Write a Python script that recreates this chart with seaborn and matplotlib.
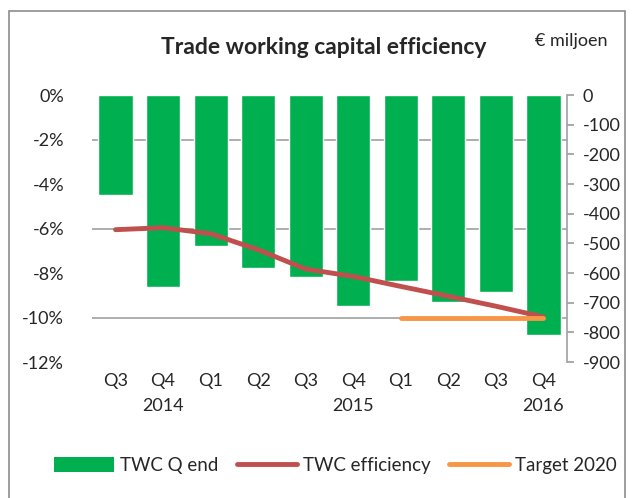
import matplotlib
matplotlib.use("Agg")
import matplotlib.pyplot as plt
import seaborn as sns
import pandas as pd
import numpy as np
from matplotlib.patches import Patch, Rectangle
from matplotlib.lines import Line2D

quarters = ["Q3", "Q4", "Q1", "Q2", "Q3", "Q4", "Q1", "Q2", "Q3", "Q4"]
years = ["", "2014", "", "", "", "2015", "", "", "", "2016"]
twc_q_end = [-336, -647, -510, -583, -612, -712, -627, -698, -664, -808]
twc_efficiency = [-6.05, -5.96, -6.23, -6.95, -7.82, -8.15, -8.6, -9.04, -9.49, -9.97]
target_2020 = [np.nan, np.nan, np.nan, np.nan, np.nan, np.nan, -10.0, -10.0, -10.0, -10.0]

GREEN = "#00B050"
RED = "#C0504D"
ORANGE = "#F79646"
GRID = "#A0A0A0"

sns.set_theme(style="white")
plt.rcParams["font.family"] = ["Lato", "DejaVu Sans"]

labels = [f"{q}\n{y}" for q, y in zip(quarters, years)]
n = len(quarters)
df = pd.DataFrame({"pos": range(n), "twc": twc_q_end, "eff": twc_efficiency,
                   "target": target_2020})

fig = plt.figure(figsize=(6.33, 4.98), dpi=100)
ax = fig.add_axes([0.145, 0.273, 0.751, 0.536])
ax2 = ax.twinx()

sns.barplot(data=df, x="pos", y="twc", color=GREEN, saturation=1, width=0.72,
            ax=ax, zorder=3, errorbar=None)
ax.set_ylim(-900, 0)
ax.set_xlim(-0.5, n - 0.5)
ax.set_xticks(range(n))
ax.set_xticklabels(labels)
ax.yaxis.tick_right()
ax.set_yticks(np.arange(-900, 1, 100))
ax.set_yticklabels([f"{v}" for v in np.arange(-900, 1, 100)])
ax.set_yticks(np.arange(-900, 1, 150), minor=True)
ax.grid(which="minor", axis="y", color=GRID, lw=1.2, zorder=0)
ax.grid(which="major", axis="y", visible=False)
ax.tick_params(axis="y", which="major", direction="out", length=5, color=GRID,
               labelsize=13, pad=6, right=True, left=False, labelright=True,
               labelleft=False)
ax.tick_params(axis="y", which="minor", length=0)
ax.tick_params(axis="x", length=0, labelsize=13, pad=8)
for t in ax.get_xticklabels():
    t.set_linespacing(1.7)
ax.set_xlabel("")
ax.set_ylabel("")
for s in ["top", "left", "bottom"]:
    ax.spines[s].set_visible(False)
ax.spines["right"].set_color(GRID)
ax.spines["right"].set_linewidth(1.2)

ax2.set_ylim(-12, 0)
sns.lineplot(data=df, x="pos", y="eff", color=RED, lw=3.5, ax=ax2,
             solid_capstyle="round")
sns.lineplot(data=df, x="pos", y="target", color=ORANGE, lw=3.5, ax=ax2,
             solid_capstyle="round")
ax2.yaxis.tick_left()
ax2.set_yticks(np.arange(-12, 1, 2))
ax2.set_yticklabels([f"{v}%" for v in np.arange(-12, 1, 2)])
ax2.tick_params(axis="y", length=0, labelsize=13, pad=20, left=True, right=False,
                labelleft=True, labelright=False)
ax2.set_ylabel("")
ax2.set_xlabel("")
for s in ax2.spines.values():
    s.set_visible(False)
ax2.set_xlim(-0.5, n - 0.5)

fig.text(0.512, 0.905, "Trade working capital efficiency", ha="center", va="center",
         fontsize=16.5, fontweight="bold")
fig.text(0.902, 0.918, "€ miljoen", ha="center", va="center", fontsize=13)

handles = [Patch(facecolor=GREEN, edgecolor="none"),
           Line2D([], [], color=RED, lw=3.5, solid_capstyle="round"),
           Line2D([], [], color=ORANGE, lw=3.5, solid_capstyle="round")]
fig.legend(handles, ["TWC Q end", "TWC efficiency", "Target 2020"], loc="center",
           bbox_to_anchor=(0.53, 0.066), ncol=3, frameon=False, fontsize=13.5,
           handlelength=3.2, handletextpad=0.3, columnspacing=1.0, handleheight=0.9)

fig.patches.append(Rectangle((9 / 633, -0.05), (625 - 9) / 633, 1 - 11 / 498 + 0.05,
                             transform=fig.transFigure, fill=False, edgecolor="#8C8C8C",
                             lw=1.2))

fig.savefig("out.png", dpi=100)
